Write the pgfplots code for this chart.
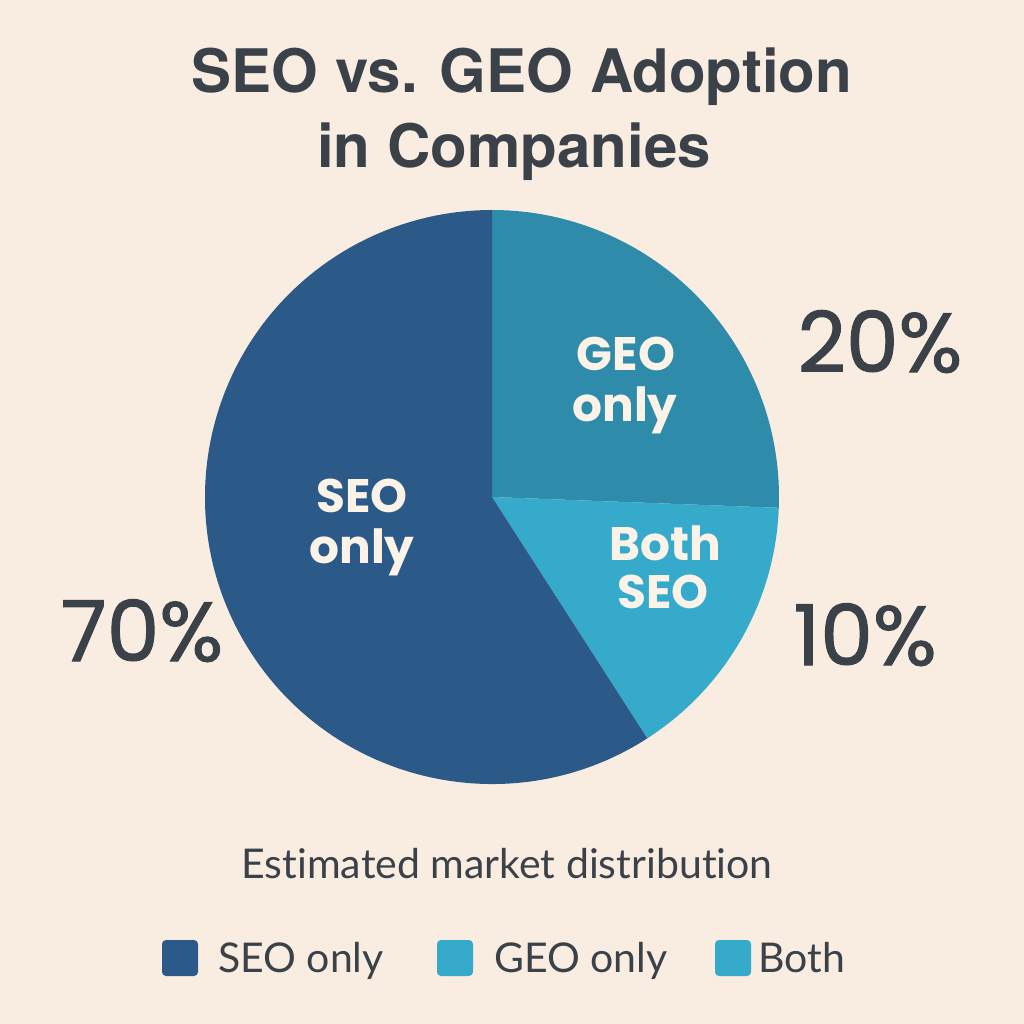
\documentclass[border=0pt]{standalone}
\usepackage{pgfplots}
\pgfplotsset{compat=1.18}
\usepackage{fontspec}
\setmainfont[Ligatures=NoCommon]{Lato}
\newfontfamily\titlefont{TeX Gyre Heros}
\newfontfamily\popfont{Poppins}
\newfontfamily\pctfont[FakeBold=1.2]{Poppins}

\definecolor{bg}{HTML}{F9EDE1}
\definecolor{ink}{HTML}{3A4148}
\definecolor{seoc}{HTML}{2C5A88}
\definecolor{geoc}{HTML}{2E8BAA}
\definecolor{bothc}{HTML}{35AACB}
\definecolor{cream}{HTML}{FBF3E8}

% slice shares as drawn (percent of the circle)
\def\geoval{25.6}
\def\bothval{15.3}
\def\seoval{59.1}
\pgfmathsetmacro\aA{90}
\pgfmathsetmacro\aB{90-3.6*\geoval}
\pgfmathsetmacro\aC{\aB-3.6*\bothval}
\pgfmathsetmacro\aD{\aC-3.6*\seoval}

\begin{document}
\begin{tikzpicture}[x=1pt,y=-1pt]
\fill[bg] (0,0) rectangle (1024,1024);

\node[font=\titlefont\bfseries\fontsize{60}{70}\selectfont, text=ink, anchor=base] at (522,93) {SEO vs. GEO Adoption};
\node[font=\titlefont\bfseries\fontsize{60}{70}\selectfont, text=ink, anchor=base] at (514,168) {in Companies};

\begin{axis}[at={(492pt,-497pt)}, anchor=center, width=574pt, height=574pt,
  scale only axis, hide axis, xmin=-1, xmax=1, ymin=-1, ymax=1]
\fill[geoc] (axis cs:0,0) -- ++(\aA:287pt) arc[start angle=\aA, end angle=\aB, radius=287pt] -- cycle;
\fill[bothc] (axis cs:0,0) -- ++(\aB:287pt) arc[start angle=\aB, end angle=\aC, radius=287pt] -- cycle;
\fill[seoc] (axis cs:0,0) -- ++(\aC:287pt) arc[start angle=\aC, end angle=\aD, radius=287pt] -- cycle;
\end{axis}

\tikzset{inlab/.style={font=\popfont\bfseries\fontsize{47}{56}\selectfont, text=cream, anchor=base},
  pct/.style={font=\pctfont\fontsize{84}{96}\selectfont, text=ink, anchor=base}}
\node[inlab] at (626,370) {GEO};
\node[inlab] at (625,421) {only};
\node[inlab] at (665,560) {Both};
\node[inlab] at (663,608) {SEO};
\node[inlab] at (362,512) {SEO};
\node[inlab] at (362,563) {only};

\node[pct] at (880,372) {20\%};
\node[pct] at (142,661) {70\%};
\node[pct] at (865,665) {10\%};

\node[font=\fontsize{41}{48}\selectfont, text=ink, anchor=base] at (507,878) {Estimated market distribution};

\fill[seoc, rounded corners=4pt] (162,940) rectangle (198,976);
\fill[bothc, rounded corners=4pt] (437,940) rectangle (473,976);
\fill[bothc, rounded corners=4pt] (715,940) rectangle (751,976);
\node[font=\fontsize{41}{50}\selectfont, text=ink, anchor=base west, inner sep=0pt] at (218,972) {SEO only};
\node[font=\fontsize{41}{50}\selectfont, text=ink, anchor=base west, inner sep=0pt] at (494,972) {GEO only};
\node[font=\fontsize{41}{50}\selectfont, text=ink, anchor=base west, inner sep=0pt] at (758,972) {Both};
\end{tikzpicture}
\end{document}
